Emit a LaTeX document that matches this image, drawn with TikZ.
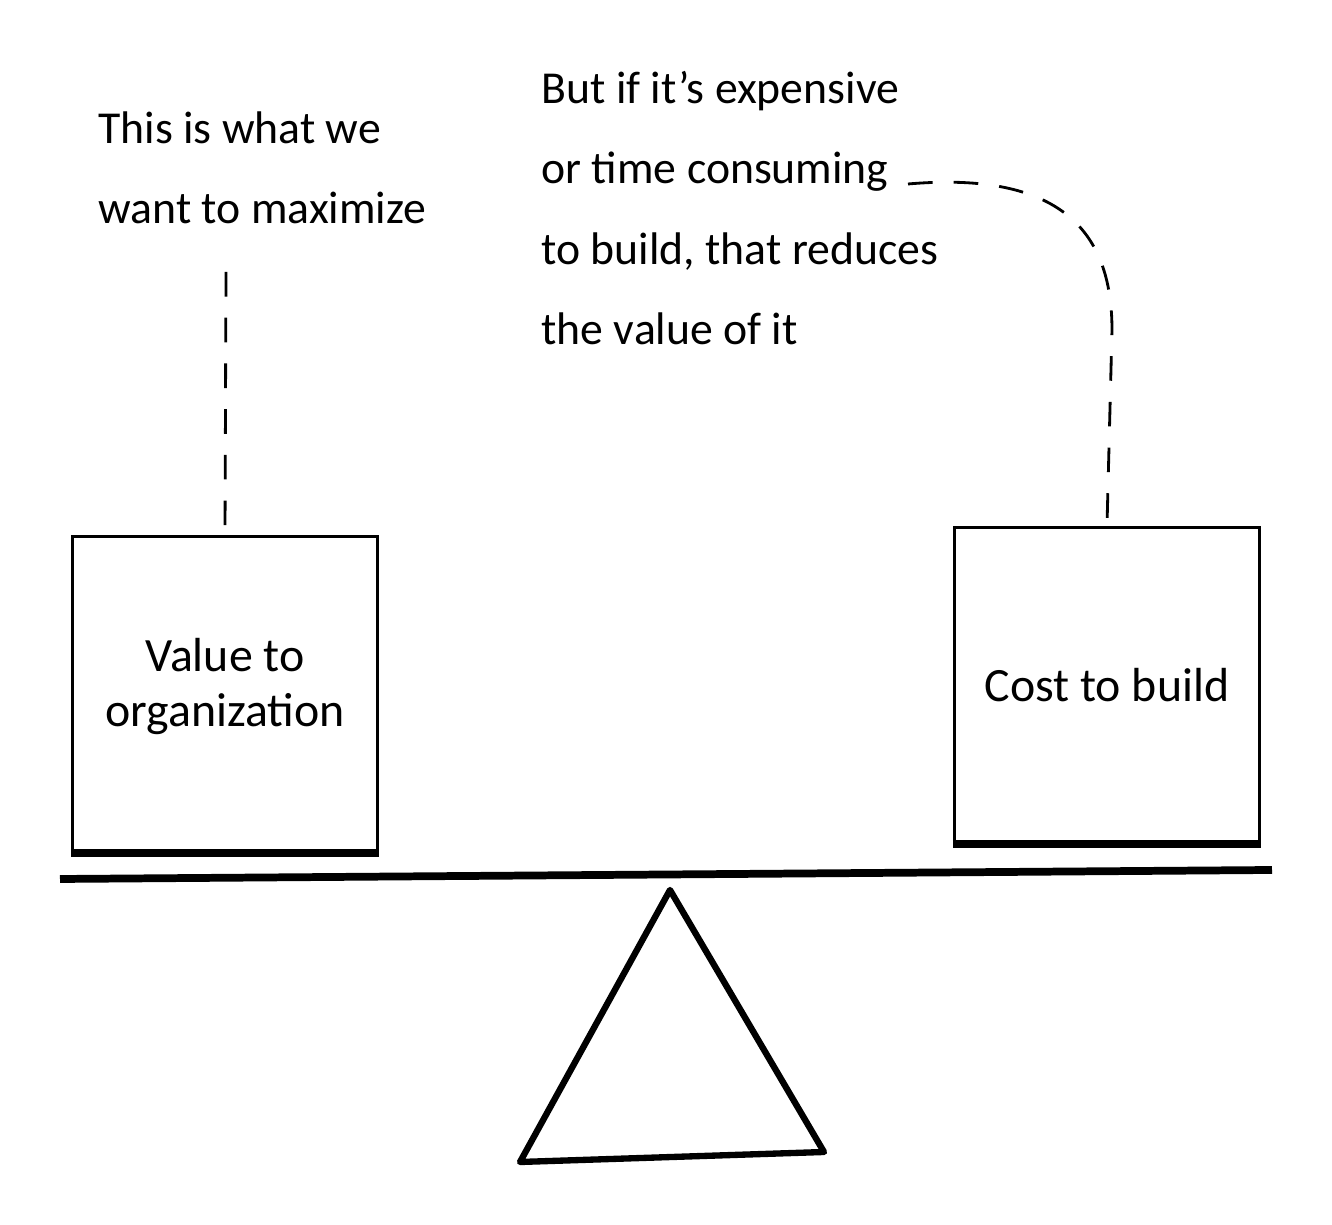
\documentclass[tikz,border=0pt]{standalone}
\usepackage{fontspec}
\setmainfont{Carlito}
\begin{document}
\begin{tikzpicture}[x=0.01cm,y=-0.01cm,line width=0.9pt,
	note/.style={anchor=north west,align=left,inner sep=0pt,font=\fontsize{13}{22.8}\selectfont},
	weight/.style={draw,line width=0.9pt,minimum width=305*0.01cm,minimum height=315*0.01cm,align=center,font=\fontsize{13.6}{15.5}\selectfont},
	link/.style={dashed,dash pattern=on 7pt off 6pt,line width=0.8pt}]
	    \useasboundingbox (0,0) rectangle (1332,1225);
	    % notes
	    \node[note] (want) at (97,110) {This is what we\\want to maximize};
	    \node[note] (but) at (540,70) {But if it's expensive\\or time consuming\\to build, that reduces\\the value of it};
	    % weights
	    \node[weight] (value) at (225,694) {Value to\\organization\\[-9pt]};
	    \node[weight] (cost) at (1107,685) {Cost to build};
	    \draw[line width=2.2pt] (value.south west)--(value.south east);
	    \draw[line width=2.2pt] (cost.south west)--(cost.south east);
	    % seesaw
	    \draw[line width=2.2pt] (60,879)--(1272,870);
	    \draw[line width=1.8pt,line join=round] (670,890)--(824,1152)--(520,1162)--cycle;
	    % dashed notes
	    \coordinate (wantend) at (226,272);
	    \coordinate (butend) at (908,184);
	    \draw[link] (wantend)--(value.north);
	    \draw[link] (butend)..controls (1070,170) and (1112,240)..(1112,330)--(cost.north);
	\end{tikzpicture}
\end{document}
